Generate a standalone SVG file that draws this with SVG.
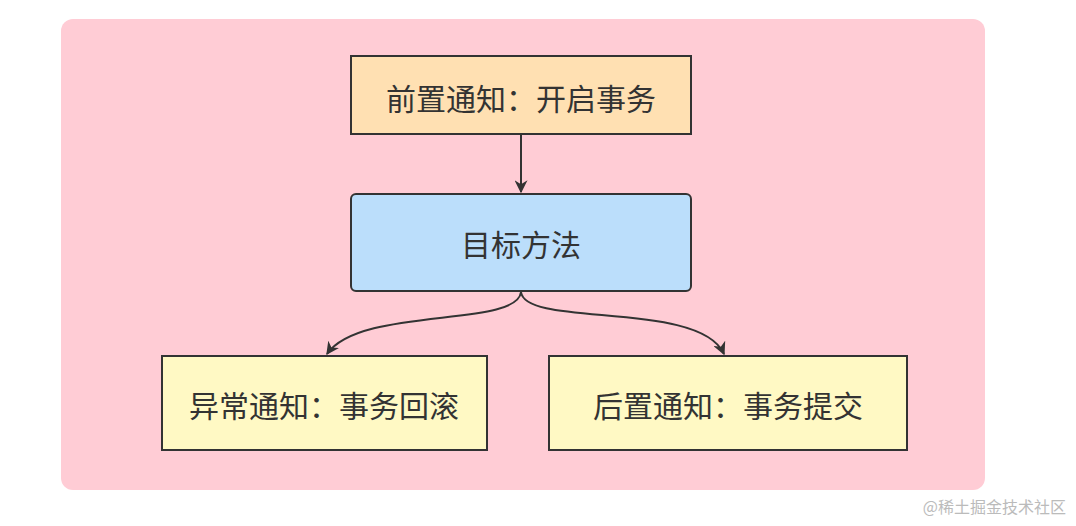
<svg xmlns="http://www.w3.org/2000/svg" width="1076" height="526" viewBox="0 0 1076 526">
<defs>
<style>
.n{stroke:#333;stroke-width:2}
.t{font-family:"Noto Sans CJK SC","Noto Sans",sans-serif;font-size:30px;fill:#333;text-anchor:middle;dominant-baseline:central}
.c{fill:none;stroke:#333;stroke-width:2}
</style>
<marker id="a" viewBox="0 0 10 10" refX="9" refY="5" markerWidth="13" markerHeight="13" orient="auto" markerUnits="userSpaceOnUse">
<path d="M0,0 L10,5 L0,10 L3,5 Z" fill="#333"/>
</marker>
</defs>
<rect width="1076" height="526" fill="#fff"/>
<rect x="61" y="19" width="924" height="471" rx="12" fill="#ffccd5"/>
<g id="connectors">
<path class="c" d="M521,135 L521,192" marker-end="url(#a)"/>
<path class="c" d="M521,292 C517,328 360,306 327,354" marker-end="url(#a)"/>
<path class="c" d="M521,292 C525,328 700,300 724,354" marker-end="url(#a)"/>
</g>
<g id="n1">
<rect class="n" x="351" y="56" width="340" height="78" fill="#ffe0b2"/>
<text class="t" x="521" y="97">前置通知：开启事务</text>
</g>
<g id="n2">
<rect class="n" x="351" y="194" width="340" height="97" rx="5" fill="#bbdefb"/>
<text class="t" x="521" y="243">目标方法</text>
</g>
<g id="n3">
<rect class="n" x="162" y="356" width="325" height="94" fill="#fff9c4"/>
<text class="t" x="324" y="404">异常通知：事务回滚</text>
</g>
<g id="n4">
<rect class="n" x="549" y="356" width="358" height="94" fill="#fff9c4"/>
<text class="t" x="728" y="404">后置通知：事务提交</text>
</g>
<text x="1066" y="513" font-family="Noto Sans CJK SC,sans-serif" font-size="16" fill="#bbb" text-anchor="end">@稀土掘金技术社区</text>
</svg>
